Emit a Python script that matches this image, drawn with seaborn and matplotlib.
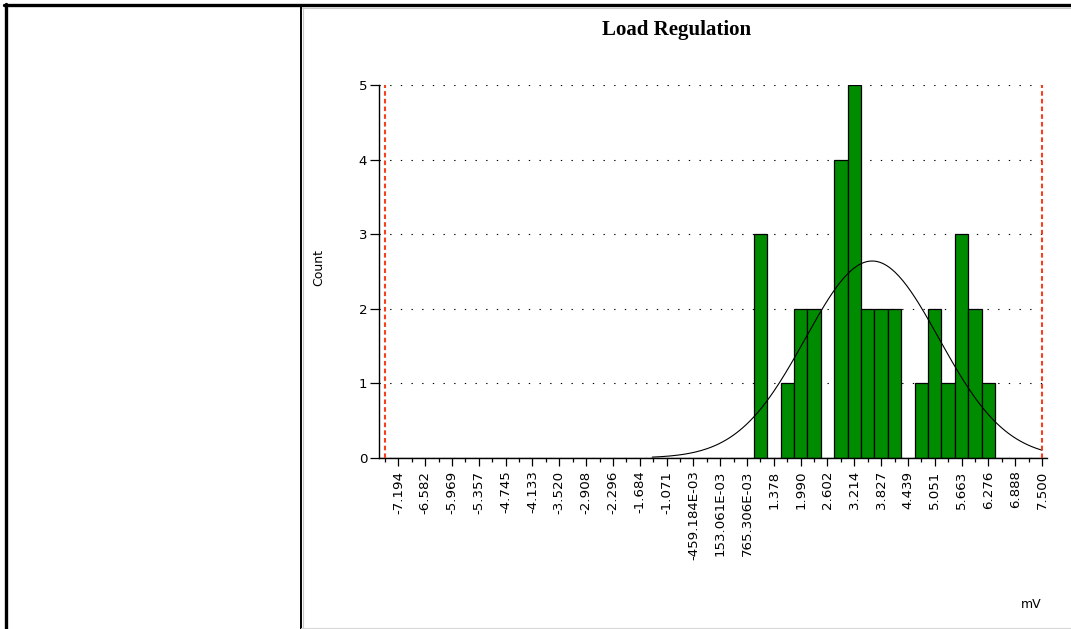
import numpy as np
import pandas as pd
import matplotlib
matplotlib.use("Agg")
import matplotlib.pyplot as plt
from matplotlib.lines import Line2D
from matplotlib.ticker import FixedLocator
import seaborn as sns

# ---- data -------------------------------------------------------------
title = "Load Regulation"
unit = "mV"
lsl, usl = -7.5, 7.5            # specification limits
n_classes = 49                   # classes between the limits
bin_centers = [1.071, 1.684, 1.990, 2.296, 2.908, 3.214, 3.520, 3.827,
               4.133, 4.745, 5.051, 5.357, 5.663, 5.969, 6.276]
counts = [3, 1, 2, 2, 4, 5, 2, 2, 2, 1, 2, 1, 3, 2, 1]
x_tick_labels = ["-7.194", "-6.582", "-5.969", "-5.357", "-4.745", "-4.133",
                 "-3.520", "-2.908", "-2.296", "-1.684", "-1.071",
                 "-459.184E-03", "153.061E-03", "765.306E-03", "1.378",
                 "1.990", "2.602", "3.214", "3.827", "4.439", "5.051",
                 "5.663", "6.276", "6.888", "7.500"]
y_ticks = [0, 1, 2, 3, 4, 5]
curve_start = -1.4

# ---- derived ----------------------------------------------------------
bw = (usl - lsl) / n_classes
df = pd.DataFrame({"value": bin_centers, "count": counts})
n_total = df["count"].sum()
mean = np.average(df["value"], weights=df["count"])
std = np.sqrt(np.sum(df["count"] * (df["value"] - mean) ** 2) / (n_total - 1))
xs = np.linspace(curve_start, usl, 200)
ys = n_total * bw * np.exp(-0.5 * ((xs - mean) / std) ** 2) / (std * np.sqrt(2 * np.pi))
curve = pd.DataFrame({"x": xs, "y": ys})

major_pos = lsl + bw * (2 * np.arange(len(x_tick_labels)) + 1)
minor_pos = lsl + bw * 2 * np.arange(len(x_tick_labels) + 1)

# ---- style ------------------------------------------------------------
sns.set_style("white")
plt.rcParams["font.family"] = ["DejaVu Sans"]
plt.rcParams["text.color"] = "black"
plt.rcParams["axes.labelcolor"] = "black"
plt.rcParams["xtick.color"] = "black"
plt.rcParams["ytick.color"] = "black"

W, H = 1071, 629
fig = plt.figure(figsize=(W / 100, H / 100), dpi=100)
fig.patch.set_facecolor("white")

def px(x0, y0, x1, y1):
    return dict(xdata=[x0 / W, x1 / W], ydata=[1 - y0 / H, 1 - y1 / H])

ax_l, ax_r, ax_t, ax_b = 379, 1047, 85, 458
ax = fig.add_axes([ax_l / W, 1 - ax_b / H, (ax_r - ax_l) / W, (ax_b - ax_t) / H])
ax.set_facecolor("white")

sns.histplot(data=df, x="value", weights="count", binwidth=bw,
             binrange=(lsl - bw / 2, usl + bw / 2), ax=ax,
             color="#008c00", edgecolor="black", linewidth=0.9, alpha=1,
             zorder=2)
sns.lineplot(data=curve, x="x", y="y", ax=ax, color="black", linewidth=0.8,
             zorder=3)

# specification limits
ax.vlines([lsl, usl], 0, 5, colors="#f5401f", linewidth=1.5,
          linestyles=[(0, (2.2, 1.5))], zorder=4)

# scales
scale = (1042 - 385) / (usl - lsl)
ax.set_xlim(lsl - (385 - ax_l) / scale, usl + (ax_r - 1042) / scale)
ax.set_ylim(0, 5)

ax.xaxis.set_major_locator(FixedLocator(major_pos))
ax.xaxis.set_minor_locator(FixedLocator(minor_pos))
ax.set_xticklabels(x_tick_labels)
ax.set_yticks(y_ticks)
ax.set_yticklabels([str(v) for v in y_ticks])

ax.tick_params(axis="x", which="major", direction="out", length=6, width=0.9,
               pad=3, labelsize=9.6, labelrotation=90, colors="black",
               bottom=True)
ax.tick_params(axis="x", which="minor", direction="out", length=3, width=0.9,
               bottom=True)
ax.tick_params(axis="y", which="major", direction="out", length=6.5,
               width=0.9, pad=2, labelsize=9.6, left=True, colors="black")

ax.grid(axis="y", color="black", linewidth=0.8, linestyle=(0, (1.2, 8.4)))
ax.grid(axis="x", visible=False)
ax.set_axisbelow(True)

for side in ("top", "right"):
    ax.spines[side].set_visible(False)
for side in ("left", "bottom"):
    ax.spines[side].set_color("black")
    ax.spines[side].set_linewidth(1.0)
ax.set_xlabel("")
ax.set_ylabel("")

# texts
fig.text(677 / W, 1 - 35 / H, title, ha="center", va="baseline",
         fontsize=15, fontweight="bold", family=["Liberation Serif"],
         color="black")
fig.text(319 / W, 1 - 268 / H, "Count", rotation=90, ha="center",
         va="center", fontsize=9, color="black")
fig.text(1031 / W, 1 - 604 / H, unit, ha="center", va="center", fontsize=9,
         color="black")

# page frame
fig.add_artist(Line2D(**px(4, 5, W, 5), color="black", linewidth=2.4))
fig.add_artist(Line2D(**px(6, 4, 6, H), color="black", linewidth=2.4))
fig.add_artist(Line2D(**px(301, 5, 301, H), color="black", linewidth=1.4))
fig.add_artist(Line2D(**px(302.8, 7, 302.8, H), color="#c8c8c8", linewidth=0.8))
fig.add_artist(Line2D(**px(302, 7.5, W, 7.5), color="#c8c8c8", linewidth=0.8))
fig.add_artist(Line2D(**px(301, 628, W, 628), color="#d8d8d8", linewidth=0.8))

fig.savefig("out.png", dpi=100, facecolor="white")
